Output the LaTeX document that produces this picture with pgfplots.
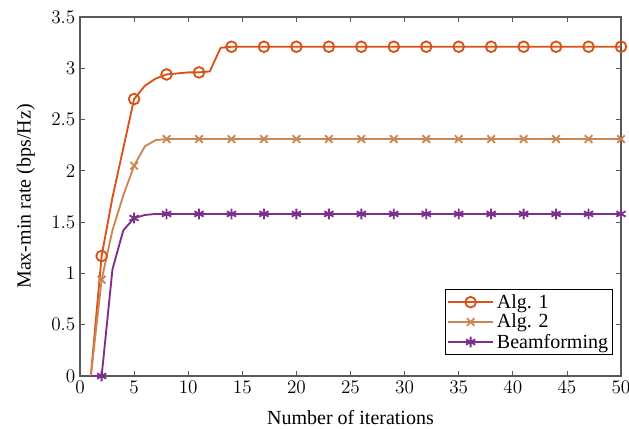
\documentclass[border=0pt]{standalone}
\usepackage{fontspec}
\setmainfont{Liberation Serif}
\usepackage{pgfplots}
\pgfplotsset{compat=1.18}
\definecolor{algA}{RGB}{217,83,25}
\definecolor{algB}{RGB}{205,133,84}
\definecolor{beam}{RGB}{126,47,142}

\begin{document}
\begin{tikzpicture}
\begin{axis}[
  scale only axis,
  width=405.75pt,
  height=269.25pt,
  xmin=0, xmax=50,
  ymin=0, ymax=3.5,
  xtick={0,5,...,50},
  ytick={0,0.5,...,3.5},
  yticklabel style={/pgf/number format/fixed},
  tick align=inside,
  tick pos=both,
  major tick length=4pt,
  axis line style={draw=black!65, line width=0.8pt},
  tick style={draw=black!65, line width=0.6pt},
  tick label style={font=\fontsize{13.5}{15}\selectfont},
  label style={font=\fontsize{15}{17}\selectfont},
  xlabel={Number of iterations},
  ylabel={Max-min rate (bps/Hz)},
  xlabel style={at={(axis description cs:0.5,-0.117)}, anchor=center},
  ylabel style={at={(axis description cs:-0.1,0.5)}, anchor=center},
  legend style={at={(rel axis cs:1,0)}, xshift=-6pt, yshift=15.75pt, anchor=south east, draw=black, font=\fontsize{15}{15}\selectfont, row sep=-1pt, inner sep=1.5pt},
  legend cell align=left,
  legend image code/.code={\draw[mark repeat=2,mark phase=2] plot coordinates {(0cm,0cm) (0.6cm,0cm) (1.2cm,0cm)};},
  every axis plot/.append style={line width=1.4pt, mark repeat=3, mark phase=2},
]
\addplot[color=algA, mark=o, mark size=4pt, mark options={line width=1.4pt}] coordinates {
  (1,0) (2,1.17) (3,1.74) (4,2.22) (5,2.70) (6,2.83) (7,2.90) (8,2.94) (9,2.95) (10,2.96)
  (11,2.96) (12,2.97) (13,3.20) (14,3.21) (15,3.21) (16,3.21) (17,3.21) (18,3.21) (19,3.21) (20,3.21)
  (21,3.21) (22,3.21) (23,3.21) (24,3.21) (25,3.21) (26,3.21) (27,3.21) (28,3.21) (29,3.21) (30,3.21)
  (31,3.21) (32,3.21) (33,3.21) (34,3.21) (35,3.21) (36,3.21) (37,3.21) (38,3.21) (39,3.21) (40,3.21)
  (41,3.21) (42,3.21) (43,3.21) (44,3.21) (45,3.21) (46,3.21) (47,3.21) (48,3.21) (49,3.21) (50,3.21)
};
\addplot[color=algB, mark=x, mark size=4pt, mark options={line width=1.4pt}] coordinates {
  (1,0) (2,0.94) (3,1.42) (4,1.76) (5,2.05) (6,2.24) (7,2.30) (8,2.31) (9,2.31) (10,2.31)
  (11,2.31) (12,2.31) (13,2.31) (14,2.31) (15,2.31) (16,2.31) (17,2.31) (18,2.31) (19,2.31) (20,2.31)
  (21,2.31) (22,2.31) (23,2.31) (24,2.31) (25,2.31) (26,2.31) (27,2.31) (28,2.31) (29,2.31) (30,2.31)
  (31,2.31) (32,2.31) (33,2.31) (34,2.31) (35,2.31) (36,2.31) (37,2.31) (38,2.31) (39,2.31) (40,2.31)
  (41,2.31) (42,2.31) (43,2.31) (44,2.31) (45,2.31) (46,2.31) (47,2.31) (48,2.31) (49,2.31) (50,2.31)
};
\addplot[color=beam, mark=asterisk, mark size=4pt, mark options={line width=1.4pt}] coordinates {
  (1,0) (2,0) (3,1.04) (4,1.42) (5,1.54) (6,1.57) (7,1.58) (8,1.58) (9,1.58) (10,1.58)
  (11,1.58) (12,1.58) (13,1.58) (14,1.58) (15,1.58) (16,1.58) (17,1.58) (18,1.58) (19,1.58) (20,1.58)
  (21,1.58) (22,1.58) (23,1.58) (24,1.58) (25,1.58) (26,1.58) (27,1.58) (28,1.58) (29,1.58) (30,1.58)
  (31,1.58) (32,1.58) (33,1.58) (34,1.58) (35,1.58) (36,1.58) (37,1.58) (38,1.58) (39,1.58) (40,1.58)
  (41,1.58) (42,1.58) (43,1.58) (44,1.58) (45,1.58) (46,1.58) (47,1.58) (48,1.58) (49,1.58) (50,1.58)
};
\legend{Alg. 1,Alg. 2,Beamforming}
\end{axis}
% fix the page to the reference margins (1px = 0.75pt)
\pgfresetboundingbox
\path (current axis.south west) ++(-60pt,-39pt) rectangle ([shift={(6pt,12.75pt)}]current axis.north east);
\end{tikzpicture}
\end{document}
